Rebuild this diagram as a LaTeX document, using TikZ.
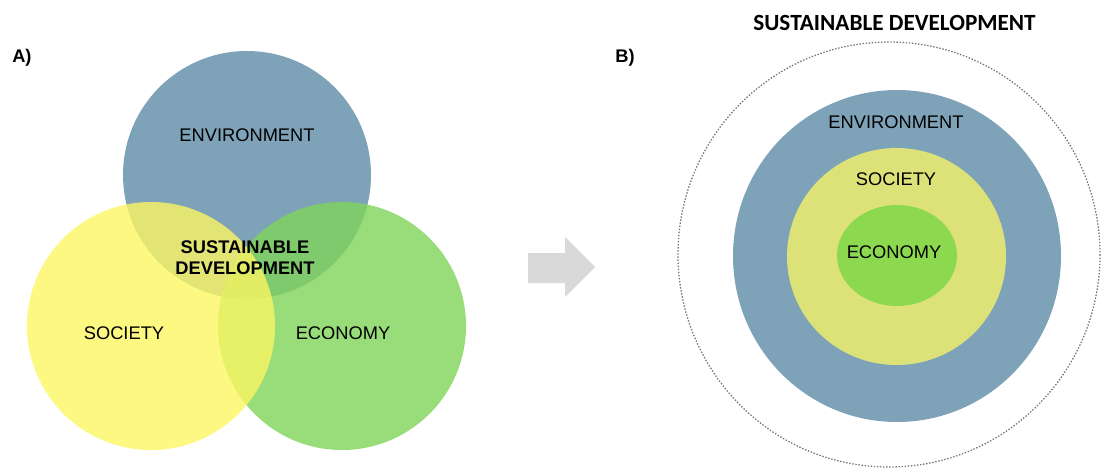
\documentclass[tikz,border=0pt]{standalone}
\usepackage{fontspec}
\setmainfont{Liberation Sans}
\newfontfamily\titlefont{Carlito}
\definecolor{envblue}{RGB}{126,163,185}
\definecolor{socyellow}{RGB}{251,246,99}
\definecolor{ecogreen}{RGB}{126,212,89}
\definecolor{socring}{RGB}{221,226,120}
\definecolor{ecocore}{RGB}{140,217,80}
\definecolor{arrowgray}{RGB}{217,217,217}

\begin{document}
\begin{tikzpicture}[x=0.025cm, y=-0.025cm, every node/.style={align=center, inner sep=0pt, text=black, font=\fontsize{13}{15.5}\selectfont}]
        \useasboundingbox (0,0) rectangle (1102,468);

        \fill[envblue] (247,175) circle (124);
        \fill[ecogreen, fill opacity=0.8] (342,326) circle (124);
        \fill[socyellow, fill opacity=0.8] (151,326) circle (124);

        \node (labA) [anchor=west, font=\fontsize{13}{15}\selectfont\bfseries] at (12,58) {A)};
        \node (envA) at (247,135) {ENVIRONMENT};
        \node (socA) at (124,333) {SOCIETY};
        \node (ecoA) at (343,333) {ECONOMY};
        \node (sdA) [font=\fontsize{13}{15}\selectfont\bfseries] at (245,258) {SUSTAINABLE\\DEVELOPMENT};

        \fill[arrowgray] (528,253) -- (565,253) -- (565,237) -- (595,267) -- (565,297) -- (565,283) -- (528,283) -- cycle;

        \draw[black!55, line width=0.9pt, dash pattern=on 1pt off 1.2pt] (889,254.5) ellipse [x radius=211, y radius=212.5];
        \fill[envblue] (897,256) ellipse [x radius=164, y radius=166];
        \fill[socring] (896.5,256.5) ellipse [x radius=109.5, y radius=108.5];
        \fill[ecocore] (897,255.5) ellipse [x radius=60, y radius=50.5];

        \node (labB) [font=\fontsize{13}{15}\selectfont\bfseries] at (625,58) {B)};
        \node (sdB) [font=\fontsize{16.5}{18}\selectfont\titlefont\bfseries] at (894.5,23) {SUSTAINABLE DEVELOPMENT};
        \node (envB) at (896,122) {ENVIRONMENT};
        \node (socB) at (896,179) {SOCIETY};
        \node (ecoB) at (894,252) {ECONOMY};
    \end{tikzpicture}
\end{document}
